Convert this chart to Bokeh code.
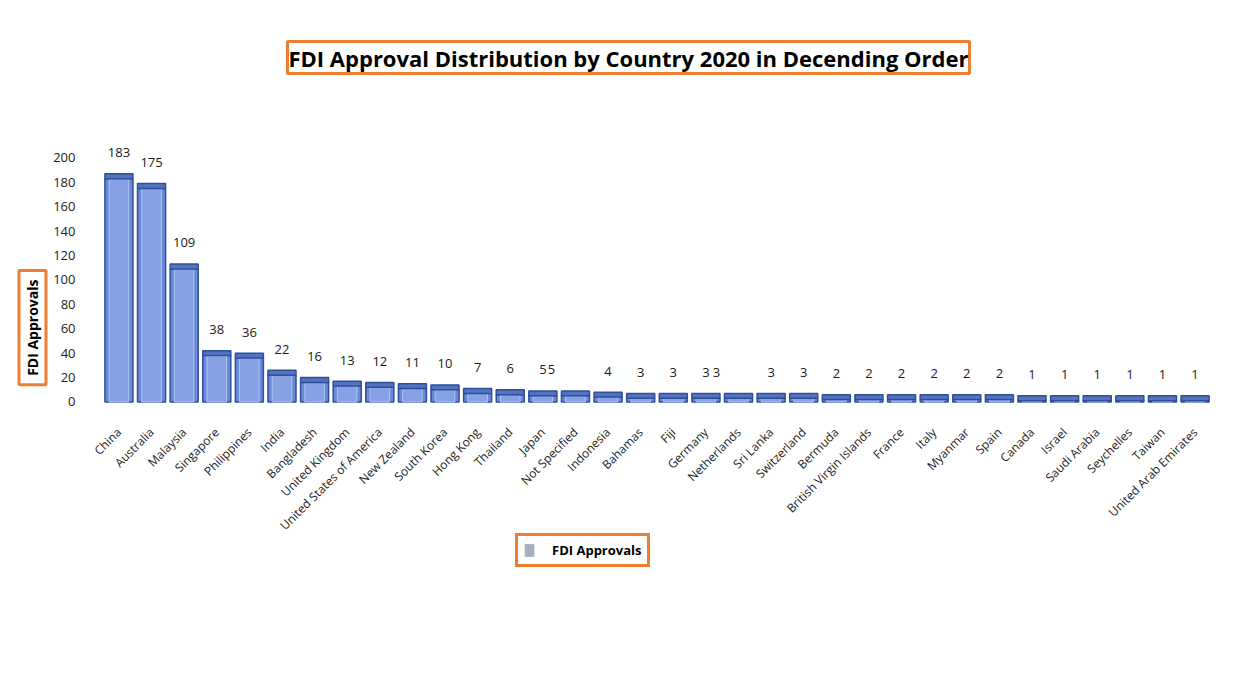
import math
from bokeh.plotting import figure
from bokeh.models import ColumnDataSource, Range1d, Legend, LegendItem, FactorRange, Title
from bokeh.embed import file_html
from bokeh.resources import INLINE

# ---- data ----
countries = [
    "China", "Australia", "Malaysia", "Singapore", "Philippines", "India",
    "Bangladesh", "United Kingdom", "United States of America", "New Zealand",
    "South Korea", "Hong Kong", "Thailand", "Japan", "Not Specified",
    "Indonesia", "Bahamas", "Fiji", "Germany", "Netherlands", "Sri Lanka",
    "Switzerland", "Bermuda", "British Virgin Islands", "France", "Italy",
    "Myanmar", "Spain", "Canada", "Israel", "Saudi Arabia", "Seychelles",
    "Taiwan", "United Arab Emirates",
]
approvals = [183, 175, 109, 38, 36, 22, 16, 13, 12, 11, 10, 7, 6, 5, 5,
             4, 3, 3, 3, 3, 3, 3, 2, 2, 2, 2, 2, 2, 1, 1, 1, 1, 1, 1]
value_labels = [str(v) for v in approvals]
y_ticks = [0, 20, 40, 60, 80, 100, 120, 140, 160, 180, 200]
chart_title = "FDI Approval Distribution by Country 2020 in Decending Order"
series_name = "FDI Approvals"

# label overlap as in the original (two labels pushed left onto neighbours)
label_shift_px = [0] * len(countries)
label_shift_px[countries.index("Not Specified")] = -24
label_shift_px[countries.index("Netherlands")] = -22

FONT = "Open Sans"
ORANGE = "#ED7D31"
CAP = 4  # depth of the 3-D top face, in data units

source = ColumnDataSource(dict(
    country=countries,
    approvals=approvals,
    cap_top=[v + CAP for v in approvals],
    label=value_labels,
    dx=label_shift_px,
))

# invisible frame spans x 78..1235, y 95..680; value 0 sits at ~401 px
p = figure(
    width=1240, height=690,
    x_range=FactorRange(factors=countries, range_padding=0.74,
                        range_padding_units="absolute"),
    y_range=Range1d(-228.3, 251.2),
    output_backend="svg", toolbar_location=None,
    min_border_left=78, min_border_right=5,
    min_border_top=95, min_border_bottom=10,
    background_fill_color="white", border_fill_color="white",
)
p.outline_line_color = None
p.xgrid.grid_line_color = None
p.ygrid.grid_line_color = None

# chart title in an orange box
p.title = Title(text=chart_title, align="left", offset=209, standoff=44,
                text_font=FONT, text_font_style="bold", text_font_size="22px",
                text_color="black",
                border_line_color=ORANGE, border_line_width=3,
                background_fill_color="white", padding=1)

# series swatch colour (drawn underneath, fully covered by the 3-D bars)
legend_r = p.vbar(x="country", top="approvals", bottom=0, width=0.5, source=source,
                  fill_color="#A7B0C2", line_color=None)

# bars (front face, inner highlight, top cap)
p.vbar(x="country", top="approvals", bottom=0, width=0.86, source=source,
       fill_color="#6A8AD6", line_color="#2F4F9A", line_width=1.5)
p.vbar(x="country", top="approvals", bottom=0, width=0.6, source=source,
       fill_color="#86A2E5", line_color="#AFC2F0", line_width=1)
p.vbar(x="country", top="cap_top", bottom="approvals", width=0.86, source=source,
       fill_color="#5273C2", line_color="#2F4F9A", line_width=1.5)

# data labels
p.text(x="country", y="approvals", text="label", source=source,
       x_offset="dx", y_offset=-26,
       text_align="center", text_baseline="middle",
       text_font_size="13px", text_color="#1a1a1a",
       text_font={"value": FONT})

# axes
p.yaxis.ticker = y_ticks
p.yaxis.axis_line_color = None
p.yaxis.major_tick_line_color = None
p.yaxis.minor_tick_line_color = None
p.yaxis.major_tick_out = 0
p.yaxis.minor_tick_out = 0
p.yaxis.major_label_standoff = 3
p.yaxis.major_label_text_font = FONT
p.yaxis.major_label_text_font_size = "13px"
p.yaxis.major_label_text_color = "#222222"

p.xaxis.fixed_location = 0
p.xaxis.axis_line_color = None
p.xaxis.major_tick_line_color = None
p.xaxis.minor_tick_line_color = None
p.xaxis.major_label_orientation = math.pi / 4
p.xaxis.major_label_standoff = 22
p.xaxis.major_label_text_font = FONT
p.xaxis.major_label_text_font_size = "12px"
p.xaxis.major_label_text_color = "#222222"

# y-axis title in an orange box (left panel)
ytitle = Title(text=series_name, align="right", offset=175, standoff=9,
               text_font=FONT, text_font_style="bold", text_font_size="14px",
               text_color="black",
               border_line_color=ORANGE, border_line_width=3,
               background_fill_color="white",
               padding=dict(left=9, right=9, top=4, bottom=4))
p.add_layout(ytitle, "left")

# legend under the category labels
legend = Legend(
    items=[LegendItem(label=series_name, renderers=[legend_r])],
    location=(437, 113),
    border_line_color=ORANGE, border_line_width=3, border_line_alpha=1,
    background_fill_color="white", background_fill_alpha=1,
    label_text_font=FONT, label_text_font_style="bold",
    label_text_font_size="13px", label_text_color="black",
    padding=5, margin=0, glyph_width=12, glyph_height=16, label_height=14,
    label_standoff=17,
)
p.add_layout(legend)

open("out.html", "w").write(file_html(p, INLINE))
